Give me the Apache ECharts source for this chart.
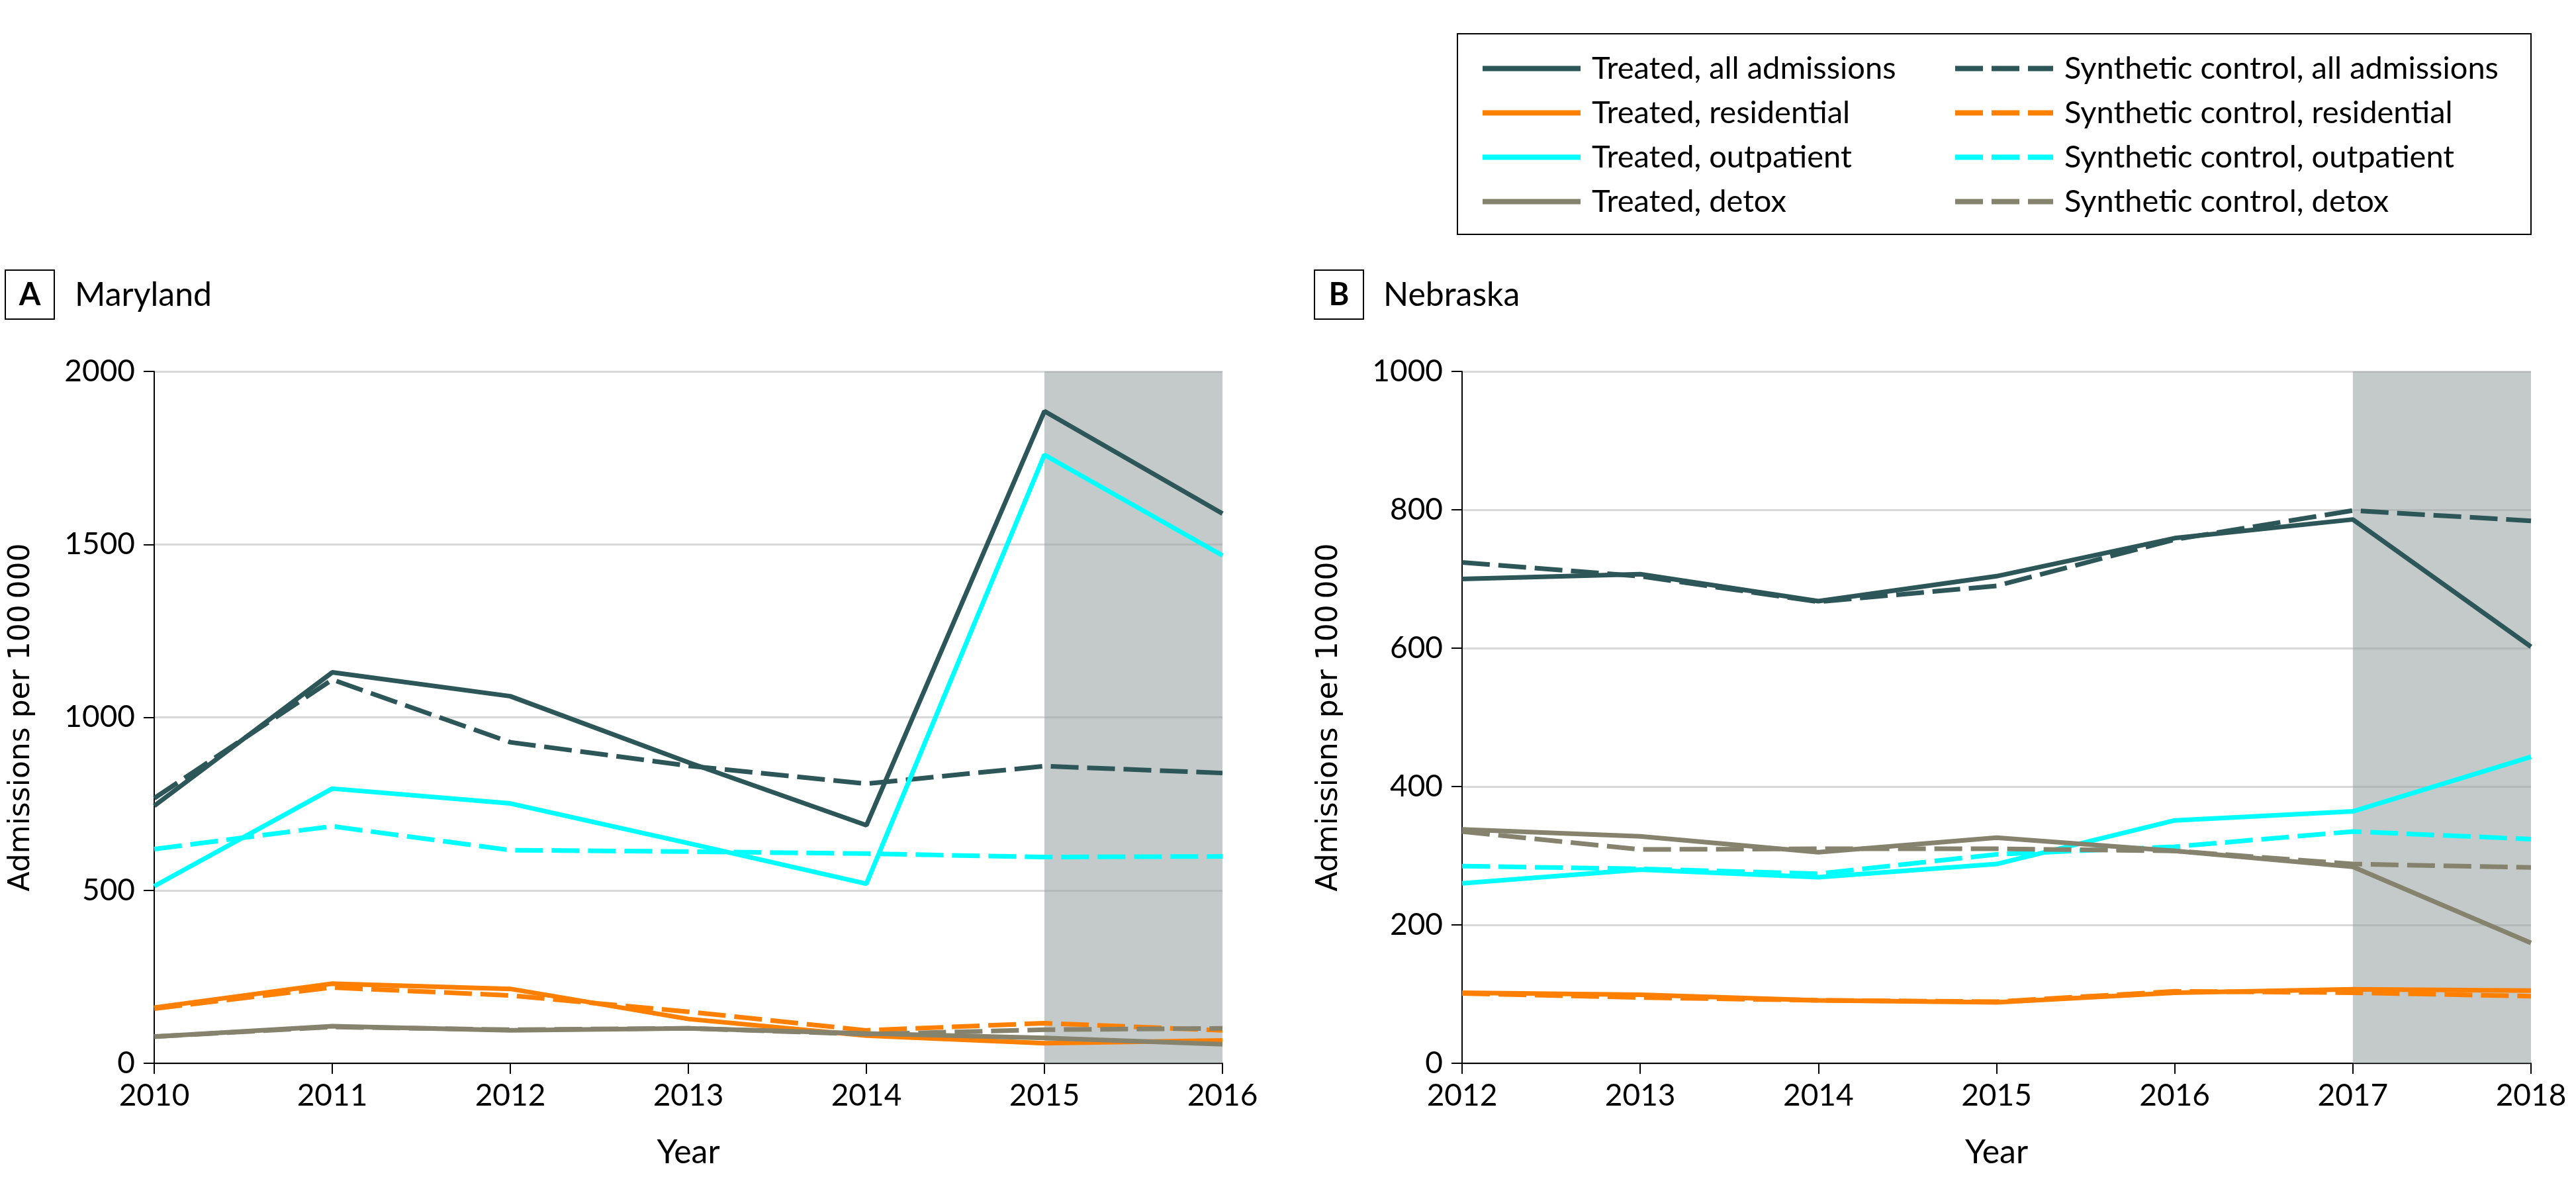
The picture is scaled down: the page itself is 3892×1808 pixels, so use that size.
<!DOCTYPE html>
<html><head><meta charset="utf-8">
<script src="https://cdn.jsdelivr.net/npm/echarts@6/dist/echarts.min.js"></script>
<style>html,body{margin:0;padding:0;background:#fff}#c{width:3892px;height:1808px}</style>
</head><body><div id="c"></div>
<script>
// ---- Data ----
const seriesNames = ['Treated, all admissions','Synthetic control, all admissions','Treated, residential','Synthetic control, residential','Treated, outpatient','Synthetic control, outpatient','Treated, detox','Synthetic control, detox'];
const treatedNames = ['Treated, all admissions','Treated, residential','Treated, outpatient','Treated, detox'];
const synthNames = ['Synthetic control, all admissions','Synthetic control, residential','Synthetic control, outpatient','Synthetic control, detox'];

// Maryland (panel A)
const mdYears = ['2010','2011','2012','2013','2014','2015','2016'];
const mdTreatedAll   = [744, 1130, 1061, 870, 688, 1885, 1589];
const mdSynthAll     = [766, 1109, 928, 860, 808, 859, 839];
const mdTreatedRes   = [161, 230, 215, 128, 80, 58, 66];
const mdSynthRes     = [158, 219, 196, 149, 95, 116, 95];
const mdTreatedOut   = [512, 794, 751, 636, 519, 1759, 1468];
const mdSynthOut     = [619, 685, 616, 612, 606, 596, 598];
const mdTreatedDetox = [77, 107, 95, 101, 86, 73, 55];
const mdSynthDetox   = [77, 105, 97, 101, 84, 97, 101];
const mdShade = ['2015','2016'];
const mdYTicks = {min:0, max:2000, interval:500};

// Nebraska (panel B)
const neYears = ['2012','2013','2014','2015','2016','2017','2018'];
const neTreatedAll   = [700, 707, 668, 704, 759, 786, 602];
const neSynthAll     = [724, 704, 667, 690, 757, 799, 784];
const neTreatedRes   = [102, 99, 91, 88, 102, 107, 105];
const neSynthRes     = [101, 95, 91, 89, 104, 102, 97];
const neTreatedOut   = [260, 280, 269, 288, 351, 364, 443];
const neSynthOut     = [285, 281, 274, 302, 313, 335, 324];
const neTreatedDetox = [338, 328, 305, 326, 307, 284, 174];
const neSynthDetox   = [335, 309, 310, 310, 307, 288, 283];
const neShade = ['2017','2018'];
const neYTicks = {min:0, max:1000, interval:200};

// ---- Styles ----
const colors = {all:'#2c5658', res:'#ff8000', out:'#00ffff', detox:'#85836d'};
const DASH = [42, 13];
const LW = 7;
const FONT = 'Lato';

function mkSeries(name, data, color, dashed, idx) {
  return {
    name: name, type: 'line', xAxisIndex: idx, yAxisIndex: idx,
    data: data, symbol: 'none', silent: true, animation: false,
    lineStyle: {color: color, width: LW, type: dashed ? DASH : 'solid'},
    itemStyle: {color: color}, z: 3
  };
}
function panelSeries(idx, ta, sa, tr, sr, to, so, td, sd, shade) {
  return [
    {type:'line', xAxisIndex: idx, yAxisIndex: idx, data: [], silent: true, animation:false,
     markArea: {silent:true, itemStyle:{color:'rgba(148,157,156,0.55)'}, data:[[{xAxis: shade[0]},{xAxis: shade[1]}]]}},
    mkSeries(seriesNames[0], ta, colors.all, false, idx),
    mkSeries(seriesNames[1], sa, colors.all, true, idx),
    mkSeries(seriesNames[2], tr, colors.res, false, idx),
    mkSeries(seriesNames[3], sr, colors.res, true, idx),
    mkSeries(seriesNames[4], to, colors.out, false, idx),
    mkSeries(seriesNames[5], so, colors.out, true, idx),
    mkSeries(seriesNames[6], td, colors.detox, false, idx),
    mkSeries(seriesNames[7], sd, colors.detox, true, idx)
  ];
}
function xAxis(idx, years) {
  return {
    type:'category', gridIndex: idx, data: years, boundaryGap: false,
    name:'Year', nameLocation:'middle', nameGap: 110,
    nameTextStyle:{fontFamily: FONT, fontSize: 50, color:'#000'},
    axisLine:{show:true, lineStyle:{color:'#000', width:2}},
    axisTick:{show:true, length:16, lineStyle:{color:'#000', width:2}},
    axisLabel:{fontFamily: FONT, fontSize: 46, color:'#000', margin: 26},
    splitLine:{show:false}
  };
}
function yAxis(idx, t) {
  return {
    type:'value', gridIndex: idx, min: t.min, max: t.max, interval: t.interval,
    name:'Admissions per 100\u2009000', nameLocation:'middle', nameGap: 178,
    nameTextStyle:{fontFamily:'DejaVu Sans', fontSize: 44, color:'#000'},
    axisLine:{show:true, lineStyle:{color:'#000', width:2}},
    axisTick:{show:true, length:16, lineStyle:{color:'#000', width:2}},
    axisLabel:{fontFamily: FONT, fontSize: 46, color:'#000', margin: 29, formatter: function (v) { return String(v); }},
    splitLine:{show:true, lineStyle:{color:'#d9d9d9', width:3}}
  };
}
const legendCommon = {
  orient:'vertical', top: 80, itemWidth: 148, itemHeight: 8, itemGap: 20,
  selectedMode: false, padding: 0,
  textStyle:{fontFamily: FONT, fontSize: 47, color:'#000', lineHeight: 46, padding:[0,0,0,12]},
  lineStyle:{width: 8}
};

const chart = echarts.init(document.getElementById('c'), null, {renderer:'canvas'});
chart.setOption({
  backgroundColor:'#fff',
  animation:false,
  grid:[
    {left:233, top:561, width:1614, height:1045},
    {left:2209, top:561, width:1615, height:1045}
  ],
  xAxis:[xAxis(0, mdYears), xAxis(1, neYears)],
  yAxis:[yAxis(0, mdYTicks), yAxis(1, neYTicks)],
  legend:[
    Object.assign({}, legendCommon, {left: 2236, data: treatedNames}),
    Object.assign({}, legendCommon, {left: 2950, data: synthNames})
  ],
  graphic:[
    {type:'rect', shape:{x:2202, y:51, width:1622, height:303}, style:{fill:'none', stroke:'#000', lineWidth:2}, silent:true},
    {type:'rect', shape:{x:8, y:408, width:74, height:74}, style:{fill:'none', stroke:'#000', lineWidth:2}, silent:true},
    {type:'text', x:45, y:446, style:{text:'A', font:'bold 47px Lato', fill:'#000', align:'center', verticalAlign:'middle', textAlign:'center', textVerticalAlign:'middle'}, silent:true},
    {type:'text', x:113, y:446, style:{text:'Maryland', font:'50px Lato', fill:'#000', align:'left', verticalAlign:'middle', textAlign:'left', textVerticalAlign:'middle'}, silent:true},
    {type:'rect', shape:{x:1986, y:408, width:74, height:74}, style:{fill:'none', stroke:'#000', lineWidth:2}, silent:true},
    {type:'text', x:2023, y:446, style:{text:'B', font:'bold 47px Lato', fill:'#000', align:'center', verticalAlign:'middle', textAlign:'center', textVerticalAlign:'middle'}, silent:true},
    {type:'text', x:2090, y:446, style:{text:'Nebraska', font:'50px Lato', fill:'#000', align:'left', verticalAlign:'middle', textAlign:'left', textVerticalAlign:'middle'}, silent:true}
  ],
  series: [].concat(
    panelSeries(0, mdTreatedAll, mdSynthAll, mdTreatedRes, mdSynthRes, mdTreatedOut, mdSynthOut, mdTreatedDetox, mdSynthDetox, mdShade),
    panelSeries(1, neTreatedAll, neSynthAll, neTreatedRes, neSynthRes, neTreatedOut, neSynthOut, neTreatedDetox, neSynthDetox, neShade)
  )
});
</script></body></html>
